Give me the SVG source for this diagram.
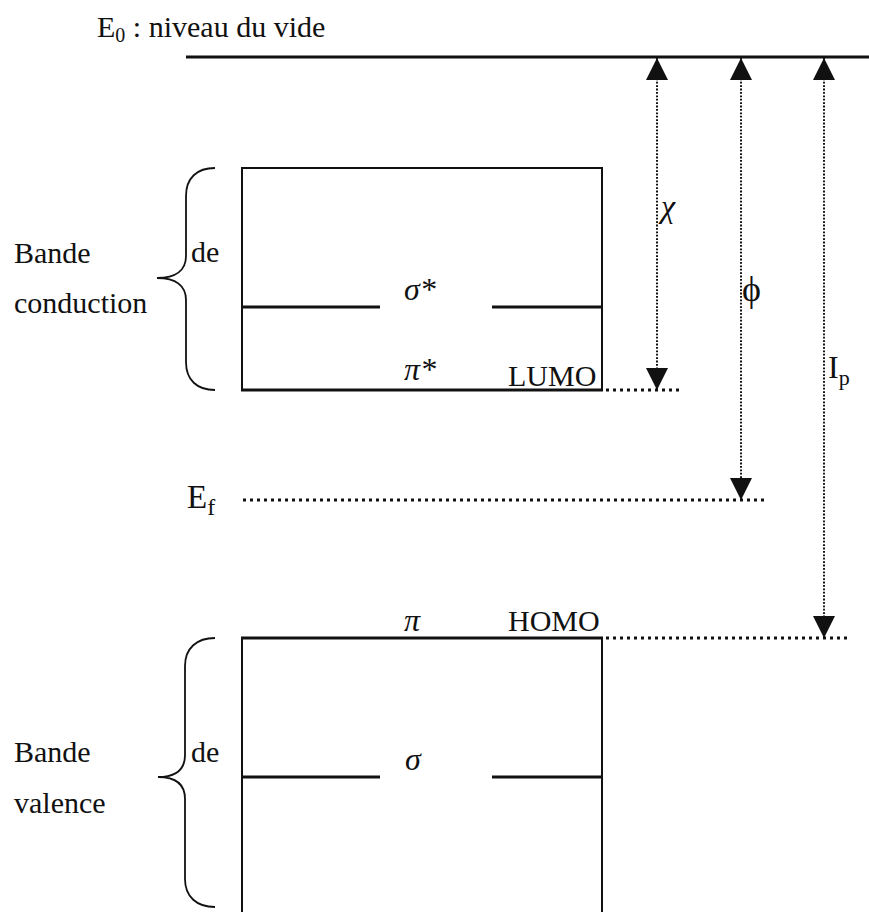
<svg xmlns="http://www.w3.org/2000/svg" width="869" height="912" viewBox="0 0 869 912">
<style>
  text { font-family: "Liberation Serif", "Times New Roman", serif; fill: #111; }
  .lbl { font-size: 30px; }
  .greek { font-size: 32px; font-style: italic; }
  .box { fill: none; stroke: #111; stroke-width: 2; }
  .lvl { stroke: #111; stroke-width: 3.2; fill: none; }
  .dot { stroke: #111; stroke-width: 3; stroke-dasharray: 3 4; fill: none; }
  .vdot { stroke: #111; stroke-width: 2; stroke-dasharray: 1.8 1.6; fill: none; }
  .brace { fill: none; stroke: #111; stroke-width: 1.8; }
</style>
<defs>
  <marker id="ah" viewBox="0 0 10 10" refX="10" refY="5" markerWidth="22" markerHeight="22" markerUnits="userSpaceOnUse" orient="auto-start-reverse">
    <path d="M0,0 L10,5 L0,10 Z" fill="#111"/>
  </marker>
</defs>
<rect width="869" height="912" fill="#fff"/>

<g id="vacuum">
  <line class="lvl" x1="186" y1="57" x2="869" y2="57"/>
  <text class="lbl" x="97" y="37">E<tspan font-size="20" dy="5">0</tspan><tspan dy="-5"> : niveau du vide</tspan></text>
</g>

<g id="conduction-band">
  <line class="box" x1="242" y1="168" x2="602" y2="168"/>
  <line class="box" x1="242" y1="167" x2="242" y2="391"/>
  <line class="box" x1="602" y1="167" x2="602" y2="391"/>
  <line class="lvl" x1="242" y1="307" x2="380" y2="307"/>
  <line class="lvl" x1="492" y1="307" x2="602" y2="307"/>
  <line class="lvl" x1="241" y1="390" x2="603" y2="390"/>
  <text class="greek" x="404" y="300">σ*</text>
  <text class="greek" x="404" y="380">π*</text>
  <text class="lbl" x="508" y="386">LUMO</text>
  <path class="brace" d="M215,168 C197,168 186,178 186,196 L186,256 C186,270 176,278 157,278 C176,278 186,286 186,300 L186,362 C186,380 197,390 215,390"/>
  <text class="lbl" x="191" y="262">de</text>
  <text class="lbl" x="14" y="263">Bande</text>
  <text class="lbl" x="14" y="313">conduction</text>
</g>

<g id="fermi">
  <text font-size="33" x="187" y="508">E<tspan font-size="24" dy="7">f</tspan></text>
</g>

<g id="valence-band">
  <line class="lvl" x1="241" y1="638" x2="603" y2="638"/>
  <line class="box" x1="242" y1="638" x2="242" y2="912"/>
  <line class="box" x1="602" y1="638" x2="602" y2="912"/>
  <line class="lvl" x1="242" y1="777" x2="380" y2="777"/>
  <line class="lvl" x1="492" y1="777" x2="602" y2="777"/>
  <text class="greek" x="404" y="631">π</text>
  <text class="lbl" x="508" y="631">HOMO</text>
  <text class="greek" x="405" y="770">σ</text>
  <path class="brace" d="M215,638 C197,638 185,648 185,666 L185,755 C185,769 176,777 158,777 C176,777 185,785 185,799 L185,879 C185,897 197,907 215,907"/>
  <text class="lbl" x="191" y="762">de</text>
  <text class="lbl" x="14" y="762">Bande</text>
  <text class="lbl" x="14" y="813">valence</text>
</g>

<g id="connectors">
  <line class="dot" x1="606" y1="390" x2="683" y2="390"/>
  <line class="dot" x1="243" y1="500" x2="768" y2="500"/>
  <line class="dot" x1="606" y1="638" x2="847" y2="638"/>
  <line class="vdot" x1="657" y1="58" x2="657" y2="390" marker-start="url(#ah)" marker-end="url(#ah)"/>
  <line class="vdot" x1="741" y1="58" x2="741" y2="500" marker-start="url(#ah)" marker-end="url(#ah)"/>
  <line class="vdot" x1="824" y1="58" x2="824" y2="638" marker-start="url(#ah)" marker-end="url(#ah)"/>
  <text class="greek" x="661" y="217">χ</text>
  <text font-size="36" x="742" y="301">ϕ</text>
  <text font-size="32" x="828" y="378">I<tspan font-size="22" dy="7">p</tspan></text>
</g>
</svg>
